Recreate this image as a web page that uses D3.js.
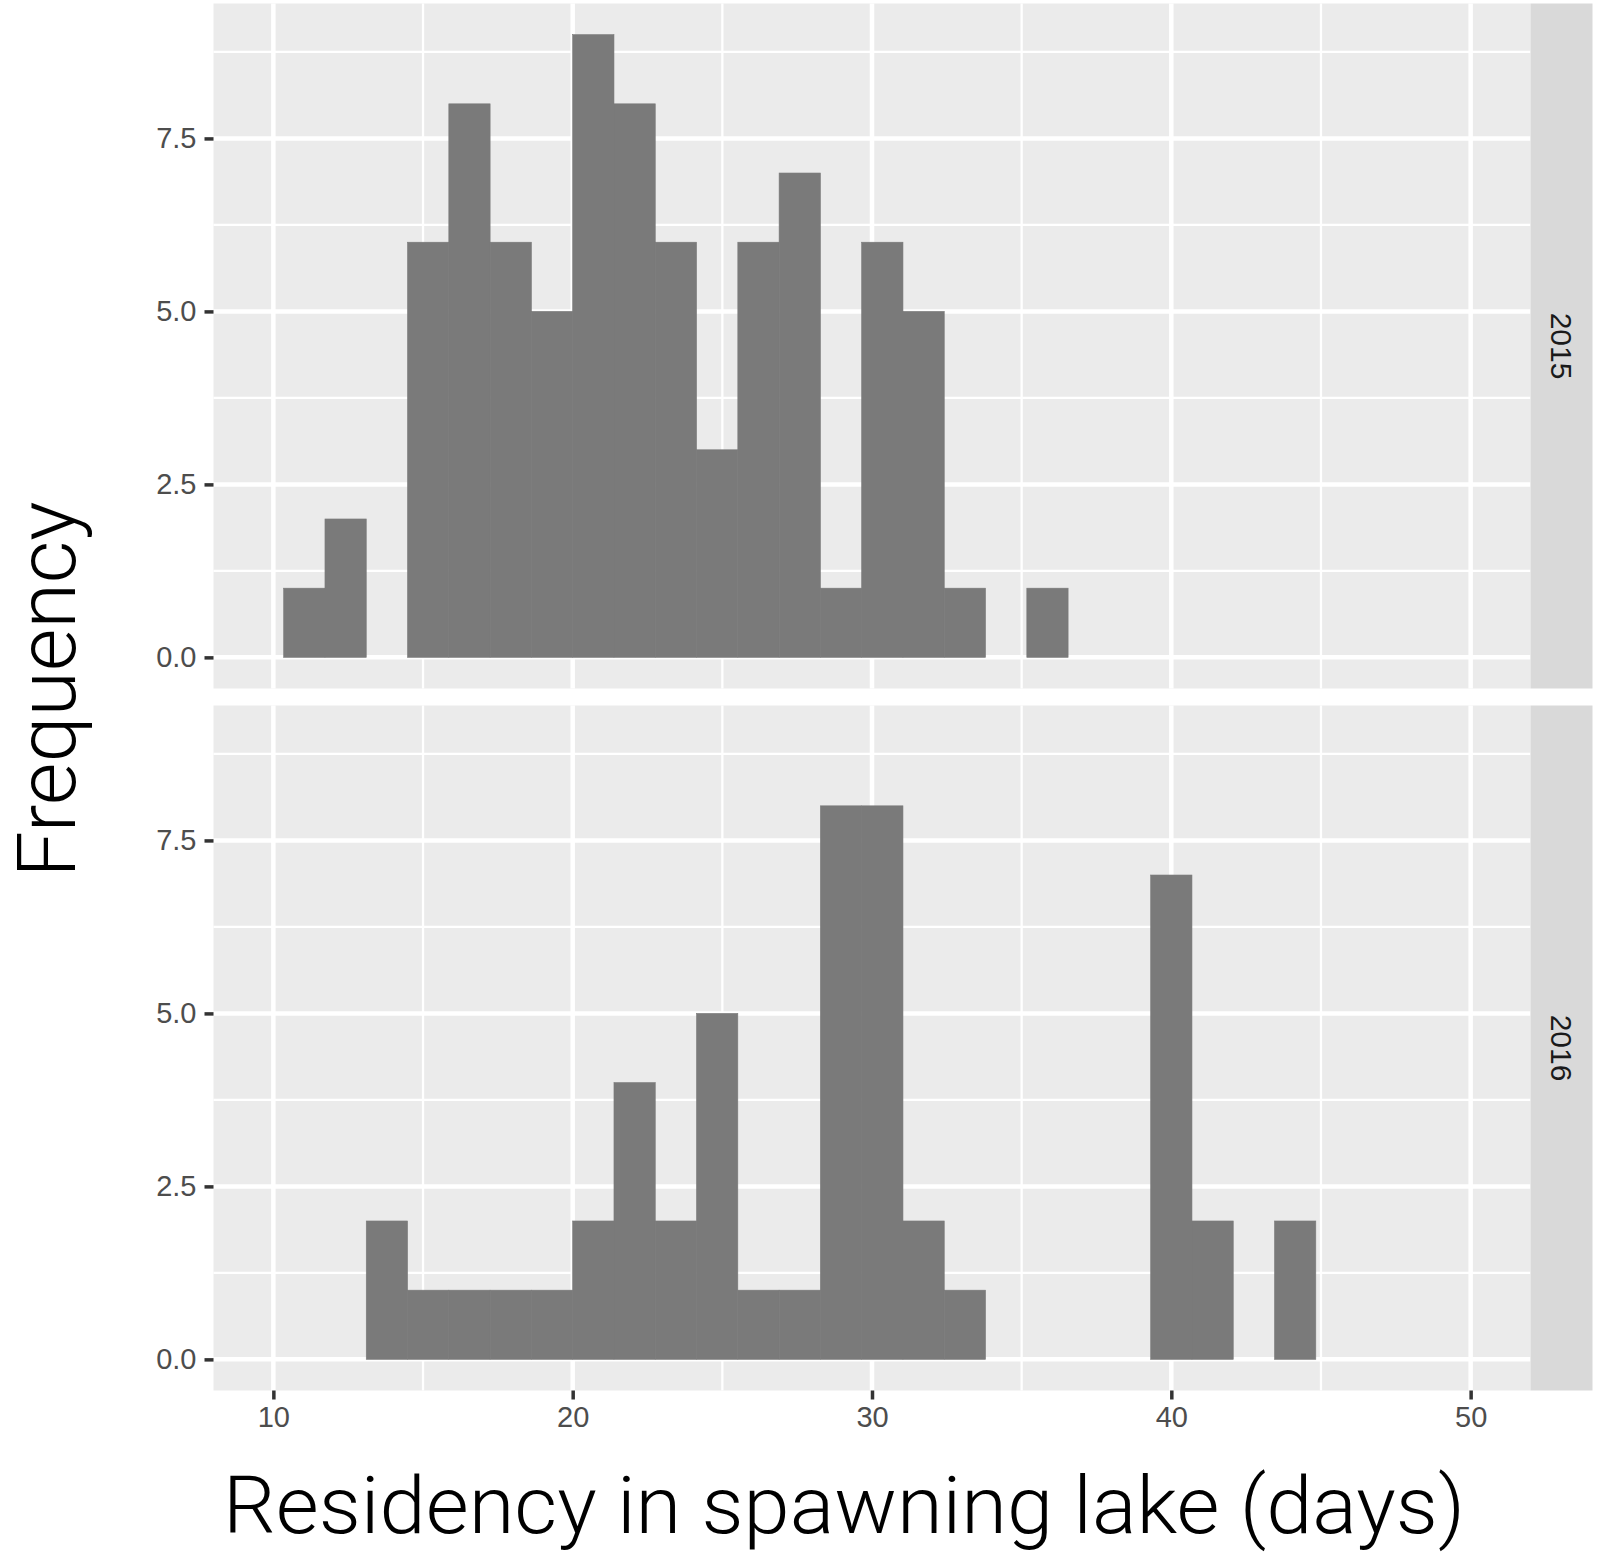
<!DOCTYPE html>
<html>
<head>
<meta charset="utf-8">
<script src="https://cdn.jsdelivr.net/npm/d3@7"></script>
<style>
  body { margin: 0; background: #fff; }
  svg { display: block; }
</style>
</head>
<body>
<div id="container"></div>
<script>
// histogram settings (ggplot: xlim(10, 50), bins = 30)
const xLimits = [10, 50];
const nBins = 30;
const years = ['2015', '2016'];
// counts per bin, bin 0 starts at the ggplot origin (see below)
const counts2015 = [0, 1, 2, 0, 6, 8, 6, 5, 9, 8, 6, 3, 6, 7, 1, 6, 5, 1, 0, 1, 0, 0, 0, 0, 0, 0, 0, 0, 0, 0];
const counts2016 = [0, 0, 0, 2, 1, 1, 1, 1, 2, 4, 2, 5, 1, 1, 8, 8, 2, 1, 0, 0, 0, 0, 7, 2, 0, 2, 0, 0, 0, 0];
const xTicks = [10, 20, 30, 40, 50];
const xMinor = [15, 25, 35, 45];
const yTicks = [0, 2.5, 5, 7.5];
const yMinor = [1.25, 3.75, 6.25, 8.75];
const xTitle = 'Residency in spawning lake (days)';
const yTitle = 'Frequency';

const width = 1600, height = 1558;
const panelLeft = 213.5, panelRight = 1530.5;
const panelTop = [3.5, 705.5];
const panelH = 685;
const stripW = 62;

const binWidth = (xLimits[1] - xLimits[0]) / (nBins - 1);
const boundary = binWidth / 2;
const origin = boundary + Math.floor((xLimits[0] - boundary) / binWidth) * binWidth;

function toBins(counts) {
  return counts.map((c, i) => ({ x0: origin + i * binWidth, x1: origin + (i + 1) * binWidth, count: c }))
    .filter(d => d.count > 0);
}
const panels = [toBins(counts2015), toBins(counts2016)];

const svg = d3.select('#container').append('svg')
  .attr('width', width)
  .attr('height', height);

const x = d3.scaleLinear()
  .domain([xLimits[0] - 0.05 * (xLimits[1] - xLimits[0]), xLimits[1] + 0.05 * (xLimits[1] - xLimits[0])])
  .range([panelLeft, panelRight]);

const tickFont = '"Liberation Sans", Arial, sans-serif';

panels.forEach((bins, p) => {
  const top = panelTop[p];
  const y = d3.scaleLinear().domain([-0.45, 9.45]).range([top + panelH, top]);
  const g = svg.append('g');

  g.append('rect')
    .attr('x', panelLeft).attr('y', top)
    .attr('width', panelRight - panelLeft).attr('height', panelH)
    .attr('fill', '#ebebeb');

  // minor grid
  g.selectAll('.xminor').data(xMinor).enter().append('line')
    .attr('x1', d => x(d)).attr('x2', d => x(d))
    .attr('y1', top).attr('y2', top + panelH)
    .attr('stroke', '#fff').attr('stroke-width', 2.3);
  g.selectAll('.yminor').data(yMinor).enter().append('line')
    .attr('x1', panelLeft).attr('x2', panelRight)
    .attr('y1', d => y(d)).attr('y2', d => y(d))
    .attr('stroke', '#fff').attr('stroke-width', 2.3);
  // major grid
  g.selectAll('.xmajor').data(xTicks).enter().append('line')
    .attr('x1', d => x(d)).attr('x2', d => x(d))
    .attr('y1', top).attr('y2', top + panelH)
    .attr('stroke', '#fff').attr('stroke-width', 4.5);
  g.selectAll('.ymajor').data(yTicks).enter().append('line')
    .attr('x1', panelLeft).attr('x2', panelRight)
    .attr('y1', d => y(d)).attr('y2', d => y(d))
    .attr('stroke', '#fff').attr('stroke-width', 4.5);

  // bars
  g.selectAll('.bar').data(bins).enter().append('rect')
    .attr('x', d => x(d.x0))
    .attr('width', d => x(d.x1) - x(d.x0))
    .attr('y', d => y(d.count))
    .attr('height', d => y(0) - y(d.count))
    .attr('fill', '#7a7a7a')
    .attr('stroke', '#7a7a7a')
    .attr('stroke-width', 0.6);

  // y axis
  const yAxis = g.append('g')
    .attr('transform', `translate(${panelLeft},0)`)
    .call(d3.axisLeft(y).tickValues(yTicks).tickFormat(d3.format('.1f')).tickSize(9).tickPadding(8));
  yAxis.select('.domain').remove();
  yAxis.selectAll('line').attr('stroke', '#333').attr('stroke-width', 3.5);
  yAxis.selectAll('text').attr('fill', '#4d4d4d').style('font-family', tickFont).style('font-size', '29px');

  // strip
  g.append('rect')
    .attr('x', panelRight).attr('y', top)
    .attr('width', stripW).attr('height', panelH)
    .attr('fill', '#d9d9d9');
  g.append('text')
    .attr('transform', `translate(${panelRight + stripW / 2},${top + panelH / 2}) rotate(90)`)
    .attr('text-anchor', 'middle')
    .attr('dy', '0.36em')
    .attr('fill', '#1a1a1a')
    .style('font-family', tickFont).style('font-size', '30px')
    .text(years[p]);
});

// x axis under the bottom panel
const xAxis = svg.append('g')
  .attr('transform', `translate(0,${panelTop[1] + panelH})`)
  .call(d3.axisBottom(x).tickValues(xTicks).tickFormat(d3.format('d')).tickSize(9).tickPadding(7));
xAxis.select('.domain').remove();
xAxis.selectAll('line').attr('stroke', '#333').attr('stroke-width', 3.5);
xAxis.selectAll('text').attr('fill', '#4d4d4d').style('font-family', tickFont).style('font-size', '29px');

const titleFont = '"Helvetica Neue", Roboto, "Liberation Sans", sans-serif';

svg.append('text')
  .attr('x', 844).attr('y', 1533)
  .attr('text-anchor', 'middle')
  .attr('textLength', 1242).attr('lengthAdjust', 'spacingAndGlyphs')
  .style('font-family', titleFont).style('font-weight', 300).style('font-size', '80px')
  .attr('fill', '#000')
  .text(xTitle);

svg.append('text')
  .attr('transform', 'translate(75,689.5) rotate(-90)')
  .attr('text-anchor', 'middle')
  .attr('textLength', 376).attr('lengthAdjust', 'spacingAndGlyphs')
  .style('font-family', titleFont).style('font-weight', 300).style('font-size', '82px')
  .attr('fill', '#000')
  .text(yTitle);
</script>
</body>
</html>
